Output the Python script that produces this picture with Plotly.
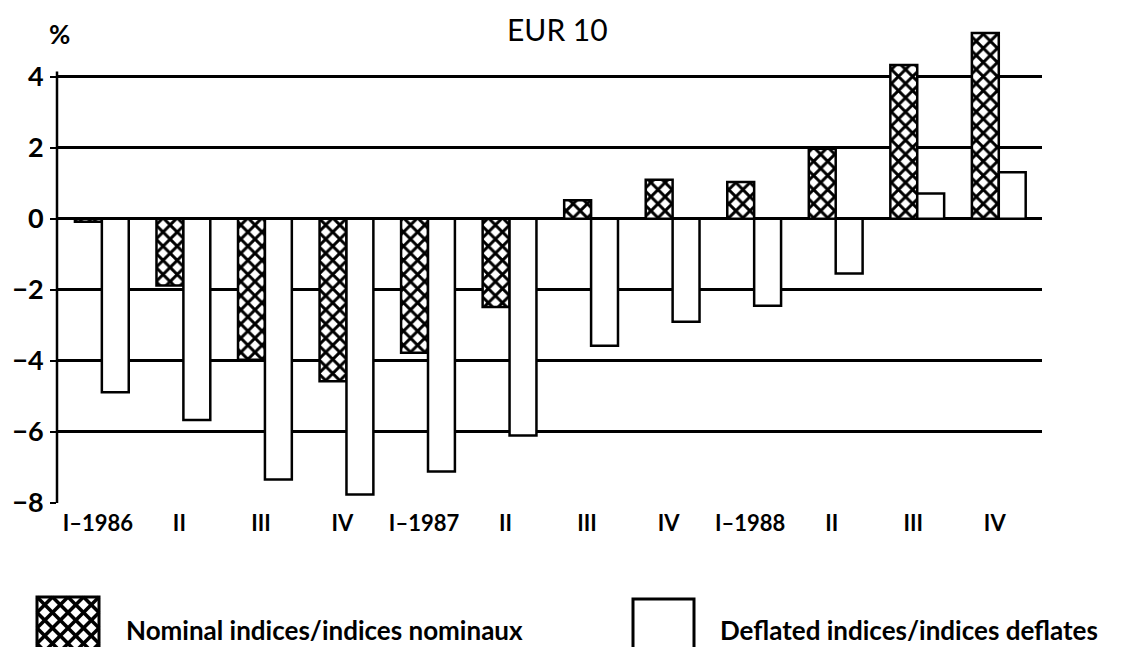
import plotly.graph_objects as go

# ---- data ----
categories = ["I-1986", "II", "III", "IV", "I-1987", "II ", "III ", "IV ",
              "I-1988", "II  ", "III  ", "IV  "]
tick_labels = ["I–1986", "II", "III", "IV", "I–1987", "II", "III", "IV",
               "I–1988", "II", "III", "IV"]
nominal = [-0.08, -1.88, -3.97, -4.57, -3.77, -2.48, 0.52, 1.10, 1.04, 1.97, 4.33, 5.23]
deflated = [-4.88, -5.66, -7.34, -7.76, -7.11, -6.10, -3.57, -2.90, -2.45, -1.54, 0.71, 1.31]
y_ticks = [-8, -6, -4, -2, 0, 2, 4]

# page body has an 8px margin: size the figure so the page is exactly the viewport
OFF = 8
W, H = 1126 - 2 * OFF, 655 - 2 * OFF
FONT = "Lato"

def px(x):
    return (x - OFF) / W

def py(y):
    return 1 - (y - OFF) / H

fig = go.Figure()
fig.add_trace(go.Bar(
    x=categories, y=nominal, name="Nominal indices/indices nominaux",
    marker=dict(color="white",
                pattern=dict(shape="x", fgcolor="black", bgcolor="white",
                             size=10, solidity=0.5, fillmode="replace"),
                line=dict(color="black", width=2.5)),
    showlegend=False,
))
fig.add_trace(go.Bar(
    x=categories, y=deflated, name="Deflated indices/indices deflates",
    marker=dict(color="white", line=dict(color="black", width=2.5)),
    showlegend=False,
))

x_dom = [px(57), px(1042)]
y_dom = [py(503), py(27)]

fig.update_layout(
    template="none",
    width=W, height=H,
    margin=dict(l=0, r=0, t=0, b=0, pad=0, autoexpand=False),
    paper_bgcolor="white", plot_bgcolor="white",
    barmode="group", bargap=0.34, bargroupgap=0.0,
    font=dict(family=FONT, color="black"),
    xaxis=dict(domain=x_dom, range=[-0.55, 11.53], showgrid=False, automargin=False,
               zeroline=False, showline=False, ticks="",
               tickmode="array", tickvals=categories, ticktext=tick_labels,
               tickfont=dict(family=FONT, size=22, color="black", weight="bold"),
               ticklabelstandoff=5, ticklabelshift=-4),
    yaxis=dict(domain=y_dom, range=[-8, 5.4], tickvals=y_ticks, automargin=False,
               ticktext=[("−" + str(-v)) if v < 0 else str(v) for v in y_ticks],
               showgrid=True, gridcolor="black", gridwidth=2.5,
               zeroline=True, zerolinecolor="black", zerolinewidth=2.5,
               showline=False, ticks="outside", ticklen=6, tickwidth=2,
               tickcolor="black", ticklabelstandoff=1,
               tickfont=dict(family=FONT, size=27, color="black", weight="bold")),
)

# y axis line (ends just above the top gridline)
fig.add_shape(type="line", xref="paper", yref="y", x0=x_dom[0], x1=x_dom[0],
              y0=-8, y1=4.15, line=dict(color="black", width=2.5), layer="above")

# title and unit
fig.add_annotation(text="EUR 10", xref="paper", yref="paper", x=px(557), y=py(9),
                   showarrow=False, xanchor="center", yanchor="top",
                   font=dict(family=FONT, size=30, color="black"))
fig.add_annotation(text="%", xref="paper", yref="paper", x=px(59), y=py(34),
                   showarrow=False, xanchor="center", yanchor="middle",
                   font=dict(family=FONT, size=26, color="black", weight="bold"))

# ---- custom legend ----
def crosshatch(x0, y0, x1, y1, pitch):
    segs = []
    c = y0 - x1
    while c < y1 - x0:
        # y = x + c
        xa, xb = max(x0, y0 - c), min(x1, y1 - c)
        if xa < xb:
            segs.append((xa, xa + c, xb, xb + c))
        c += pitch
    c = x0 + y0
    while c < x1 + y1:
        # y = -x + c
        xa, xb = max(x0, c - y1), min(x1, c - y0)
        if xa < xb:
            segs.append((xa, c - xa, xb, c - xb))
        c += pitch
    return segs

sx0, sy0, sx1, sy1 = 37, 597, 99, 662
for (a, b, c2, d) in crosshatch(sx0, sy0, sx1, sy1, 15.5):
    fig.add_shape(type="line", xref="paper", yref="paper",
                  x0=px(a), y0=py(b), x1=px(c2), y1=py(d),
                  line=dict(color="black", width=3.5))
fig.add_shape(type="rect", xref="paper", yref="paper",
              x0=px(sx0), y0=py(sy0), x1=px(sx1), y1=py(sy1),
              line=dict(color="black", width=3), fillcolor="rgba(0,0,0,0)")
fig.add_shape(type="rect", xref="paper", yref="paper",
              x0=px(633), y0=py(599), x1=px(694), y1=py(662),
              line=dict(color="black", width=3), fillcolor="white")

fig.add_annotation(text="Nominal indices/indices nominaux", xref="paper", yref="paper",
                   x=px(124), y=py(630), showarrow=False, xanchor="left", yanchor="middle",
                   font=dict(family=FONT, size=26, color="black", weight="bold"))
fig.add_annotation(text="Deflated indices/indices deflates", xref="paper", yref="paper",
                   x=px(718), y=py(630), showarrow=False, xanchor="left", yanchor="middle",
                   font=dict(family=FONT, size=26, color="black", weight="bold"))

fig.write_html("out.html")
